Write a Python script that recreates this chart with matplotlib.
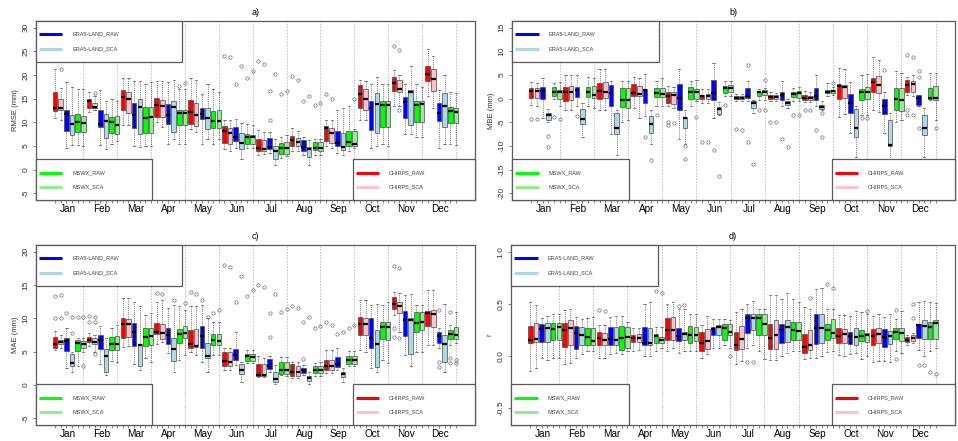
import numpy as np
import matplotlib
matplotlib.use("Agg")
import matplotlib.pyplot as plt
from matplotlib.patches import Rectangle

plt.rcParams['font.family'] = ['Liberation Sans', 'DejaVu Sans']

months = ["Jan", "Feb", "Mar", "Apr", "May", "Jun", "Jul", "Aug", "Sep", "Oct", "Nov", "Dec"]
products = ["CHIRPS_RAW", "CHIRPS_SCA", "ERA5-LAND_RAW", "ERA5-LAND_SCA", "MSWX_RAW", "MSWX_SCA"]
colors = ["#ff0000", "#ffc0cb", "#0000ff", "#add8e6", "#00ff00", "#90ee90"]

# each entry: (whisker low, q1, median, q3, whisker high) per month
# ---------------- a) RMSE ----------------
rmse_chirps_raw = [(10.9, 12.4, 13.0, 16.4, 21.3), (12.2, 13.0, 14.5, 14.9, 16.4), (9.5, 12.5, 15.3, 16.9, 19.3),
                   (10.0, 11.2, 13.7, 15.2, 18.8), (8.5, 9.7, 12.1, 14.7, 19.3), (4.3, 5.6, 8.1, 9.3, 10.5),
                   (3.0, 4.0, 4.6, 6.5, 8.4), (4.0, 4.9, 6.2, 7.2, 8.7), (5.0, 6.0, 8.8, 9.3, 10.5),
                   (10.5, 13.0, 15.9, 17.8, 19.0), (13.5, 16.6, 18.4, 19.6, 21.0), (15.5, 18.7, 20.3, 21.9, 25.5)]
rmse_chirps_sca = [(10.5, 12.5, 13.0, 15.0, 17.3), (12.5, 13.1, 13.3, 14.0, 15.5), (9.5, 12.0, 15.0, 16.4, 19.3),
                   (9.0, 11.1, 13.4, 14.7, 18.8), (8.0, 9.3, 11.6, 14.0, 19.0), (4.0, 5.4, 7.7, 8.9, 10.5),
                   (3.3, 3.9, 4.4, 6.3, 8.0), (4.0, 4.9, 5.8, 6.7, 8.2), (4.5, 5.6, 7.7, 8.9, 10.5),
                   (10.5, 12.7, 15.0, 17.1, 18.8), (13.5, 16.4, 17.1, 18.9, 20.0), (13.0, 16.6, 19.2, 21.3, 24.0)]
rmse_era5_raw = [(4.6, 8.2, 11.7, 12.5, 18.5), (5.3, 9.1, 9.7, 12.5, 16.8), (5.0, 8.8, 11.6, 14.0, 18.8),
                 (5.5, 9.7, 11.5, 13.8, 18.5), (5.5, 10.7, 11.8, 13.0, 16.0), (4.6, 6.0, 7.0, 9.1, 10.6),
                 (3.5, 4.3, 4.8, 6.7, 8.0), (3.0, 3.9, 4.7, 6.2, 7.0), (3.5, 4.9, 5.6, 8.2, 12.5),
                 (4.5, 8.4, 13.0, 14.5, 18.0), (7.5, 11.0, 14.3, 15.4, 18.0), (4.5, 10.2, 12.0, 14.0, 16.8)]
rmse_era5_sca = [(5.3, 7.4, 9.7, 11.6, 17.5), (4.3, 6.7, 10.2, 11.7, 14.5), (4.8, 7.5, 13.2, 15.0, 18.8),
                 (6.5, 7.9, 13.2, 14.5, 19.0), (6.5, 8.6, 11.0, 13.0, 18.0), (2.3, 4.3, 5.6, 7.7, 9.8),
                 (1.0, 2.3, 3.9, 5.1, 6.5), (1.0, 2.7, 4.3, 4.7, 6.2), (3.0, 4.1, 4.7, 7.7, 13.0),
                 (5.0, 7.7, 13.8, 16.1, 19.5), (7.5, 9.5, 16.3, 16.8, 21.8), (5.5, 9.1, 13.4, 16.1, 20.0)]
rmse_mswx_raw = [(5.3, 7.9, 10.1, 11.7, 17.1), (5.5, 7.7, 10.0, 11.2, 15.0), (5.0, 7.7, 11.0, 13.2, 18.0),
                 (5.5, 9.5, 11.9, 12.6, 17.0), (5.5, 8.8, 10.3, 12.4, 17.0), (4.5, 5.5, 6.8, 7.6, 9.7),
                 (2.5, 3.4, 4.6, 5.6, 7.0), (3.0, 4.1, 4.6, 5.8, 6.5), (4.0, 5.1, 5.8, 8.2, 13.5),
                 (5.5, 9.1, 13.6, 14.5, 18.0), (7.0, 10.0, 13.6, 14.5, 18.0), (5.5, 9.8, 12.3, 13.2, 16.5)]
rmse_mswx_sca = [(4.9, 7.9, 9.8, 11.4, 17.1), (6.0, 7.5, 9.5, 11.4, 14.5), (5.0, 7.7, 11.1, 13.2, 18.5),
                 (5.5, 9.5, 12.0, 12.6, 17.0), (6.5, 8.8, 10.2, 12.6, 16.5), (4.5, 5.5, 6.8, 7.4, 9.5),
                 (2.8, 3.4, 4.6, 5.8, 7.3), (3.0, 4.0, 4.5, 5.8, 6.5), (4.5, 4.9, 5.5, 8.2, 8.5),
                 (5.0, 9.0, 13.6, 14.6, 18.0), (7.0, 10.0, 13.8, 14.6, 17.5), (5.3, 9.8, 12.1, 13.1, 16.2)]
# outliers: (month index, product index, value)
rmse_outliers = [(0, 1, 21.2), (1, 1, 16.2), (3, 4, 17.7), (3, 5, 18.3), (5, 0, 24.0), (5, 1, 23.7),
                 (5, 2, 18.0), (5, 3, 22.0), (5, 4, 19.4), (5, 5, 20.9), (6, 0, 22.9), (6, 1, 22.3),
                 (6, 2, 16.7), (6, 2, 10.5), (6, 3, 20.3), (6, 4, 15.9), (6, 5, 16.6), (7, 0, 19.7),
                 (7, 1, 19.0), (7, 2, 14.5), (7, 3, 15.6), (7, 4, 13.6), (7, 5, 14.1), (8, 0, 15.9),
                 (8, 1, 14.9), (8, 5, 15.0), (10, 0, 26.2), (10, 1, 25.3), (10, 1, 12.5)]

# ---------------- b) MBE ----------------
mbe_chirps_raw = [(-1.4, 0.1, 1.6, 2.2, 3.6), (-2.5, -0.6, 1.4, 2.4, 5.0), (-2.5, 0.0, 1.6, 3.4, 6.2),
                  (-2.0, 0.5, 1.2, 3.0, 4.5), (-1.5, -0.9, 0.5, 1.5, 2.6), (-1.0, -0.1, 0.5, 0.8, 2.0),
                  (-0.5, 0.0, 0.2, 0.5, 1.0), (-0.5, -0.1, 0.3, 0.7, 1.5), (-0.8, -0.2, 0.2, 0.7, 1.7),
                  (-3.8, -0.1, 2.6, 3.0, 6.5), (-2.5, 1.4, 3.5, 4.4, 8.7), (0.8, 1.4, 2.9, 4.0, 4.5)]
mbe_chirps_sca = [(-1.5, 0.1, 1.6, 2.2, 3.3), (-2.3, -0.3, 1.5, 2.6, 5.0), (-2.5, 0.1, 1.4, 3.5, 6.2),
                  (-4.0, 0.5, 1.0, 2.6, 4.3), (-2.0, -1.2, 0.7, 1.5, 2.5), (-1.0, -0.1, 0.6, 0.9, 2.0),
                  (-0.5, 0.0, 0.2, 0.5, 1.0), (-0.5, -0.1, 0.3, 0.7, 1.2), (-0.8, -0.2, 0.2, 0.5, 1.5),
                  (-3.2, 0.1, 2.5, 2.8, 6.3), (-2.8, 1.2, 2.9, 4.7, 8.2), (0.5, 1.3, 3.1, 3.8, 5.0)]
mbe_era5_raw = [(-4.0, -0.1, 1.6, 2.4, 4.3), (-1.5, 0.3, 1.9, 2.4, 5.0), (-7.5, -1.6, 1.2, 2.8, 3.8),
                (-3.7, -1.0, 1.9, 2.1, 5.2), (-8.5, -2.3, 0.2, 3.0, 6.3), (-4.0, -0.2, 1.2, 3.9, 7.5),
                (-0.5, 0.1, 0.6, 2.3, 3.8), (-1.5, -0.3, 0.7, 1.5, 3.8), (-1.5, -0.3, 0.5, 2.2, 5.1),
                (-7.2, -3.0, -0.9, 1.0, 3.6), (-7.2, -3.3, -1.6, -0.1, 1.5), (-1.5, -1.3, 0.1, 0.7, 0.8)]
mbe_era5_sca = [(-5.0, -4.5, -3.5, -3.0, -2.2), (-8.0, -5.4, -4.4, -2.1, -1.0), (-12.0, -7.5, -6.1, -3.0, -2.5),
                (-9.5, -7.2, -5.4, -3.6, -2.5), (-9.5, -6.1, -4.0, -3.8, -2.5), (-3.5, -3.2, -2.2, -1.7, -0.8),
                (-3.0, -1.9, -1.0, -0.6, -0.2), (-2.0, -1.4, -1.0, -0.5, 0.0), (-2.5, -2.1, -1.7, -1.3, -0.5),
                (-12.3, -8.2, -6.1, -2.2, -1.5), (-13.0, -10.1, -9.8, -4.5, -3.0), (-12.3, -7.7, -6.2, -3.5, -2.0)]
mbe_mswx_raw = [(0.0, 0.5, 1.4, 2.4, 3.4), (-1.5, 0.3, 1.3, 2.4, 4.5), (-5.0, -1.7, -0.3, 2.3, 3.7),
                (-1.5, 0.3, 1.2, 2.3, 3.7), (-1.5, 0.0, 1.4, 2.4, 3.7), (0.5, 1.2, 2.2, 2.7, 3.7),
                (-0.3, 0.5, 1.3, 1.5, 2.1), (-0.5, 0.3, 0.9, 1.4, 2.3), (0.5, 1.1, 1.5, 1.9, 3.4),
                (-3.5, -0.3, 1.5, 2.1, 5.0), (-5.0, -2.3, 0.0, 2.2, 5.8), (-0.3, -0.1, 0.1, 2.2, 5.4)]
mbe_mswx_sca = [(-1.5, -0.1, 1.5, 1.9, 3.5), (-2.0, 0.1, 0.8, 2.6, 4.3), (-4.5, -1.9, -0.3, 2.2, 3.8),
                (-1.5, 0.3, 0.9, 2.2, 4.3), (-0.5, 0.0, 1.5, 2.1, 4.0), (0.5, 1.3, 2.3, 2.8, 3.8),
                (-0.3, 0.7, 1.3, 1.9, 2.3), (-0.5, 0.2, 1.2, 1.7, 2.5), (0.7, 1.2, 1.6, 1.9, 2.5),
                (-3.5, -0.1, 1.3, 2.4, 5.2), (-4.5, -2.6, -0.3, 2.2, 5.5), (-4.5, -0.3, 0.2, 2.7, 5.4)]
mbe_outliers = [(0, 0, -4.4), (0, 1, -4.2), (0, 3, -7.8), (0, 3, -10.2), (0, 4, -3.8), (0, 5, -4.3),
                (1, 2, -3.7), (3, 2, -8.1), (3, 3, -12.9), (3, 4, -3.5), (4, 0, -5.5), (4, 0, -5.0),
                (4, 1, -5.2), (4, 3, -10.1), (4, 3, -12.8), (4, 5, -3.8), (5, 0, -9.1), (5, 1, -9.1),
                (5, 2, -10.8), (5, 3, -16.4), (5, 4, -1.3), (6, 0, -6.4), (6, 1, -6.6), (6, 2, 7.2),
                (6, 2, -9.2), (6, 3, -13.7), (6, 4, -2.4), (6, 5, 3.9), (6, 5, -2.4), (7, 0, -5.0),
                (7, 1, -5.0), (7, 2, -8.5), (7, 3, -10.2), (7, 4, -3.4), (7, 5, -3.4), (8, 0, -2.4),
                (8, 1, -2.4), (8, 2, -6.6), (8, 3, -3.0), (8, 3, -8.0), (8, 5, 3.3), (9, 4, -4.0),
                (9, 5, -4.0), (10, 2, 6.1), (11, 0, 9.3), (11, 0, -2.4), (11, 0, -3.5), (11, 1, 8.8),
                (11, 1, -3.5), (11, 2, 5.9), (11, 2, 4.5), (11, 2, -6.3), (11, 5, -6.2)]

# ---------------- c) MAE ----------------
mae_chirps_raw = [(5.3, 5.6, 6.2, 7.2, 8.1), (5.8, 6.4, 6.8, 7.2, 7.8), (5.7, 7.1, 9.2, 10.1, 13.1),
                  (6.2, 7.6, 7.9, 9.3, 12.5), (5.0, 5.5, 6.2, 8.3, 11.8), (2.2, 2.9, 3.6, 5.0, 5.5),
                  (1.2, 1.4, 1.5, 3.1, 4.3), (1.0, 1.4, 1.9, 3.1, 3.5), (1.8, 2.3, 2.9, 3.7, 5.3),
                  (5.3, 7.5, 9.1, 10.2, 12.8), (10.5, 11.4, 12.2, 13.2, 14.0), (6.0, 8.8, 10.8, 11.1, 14.3)]
mae_chirps_sca = [(5.5, 6.1, 6.4, 6.8, 7.5), (5.0, 6.2, 6.4, 7.0, 7.5), (5.8, 7.2, 9.1, 9.9, 13.0),
                  (6.5, 6.9, 7.8, 9.2, 12.7), (4.5, 5.7, 5.9, 8.4, 11.8), (2.2, 2.9, 3.4, 4.9, 5.5),
                  (1.2, 1.4, 1.5, 3.1, 4.0), (1.0, 1.4, 1.9, 2.9, 3.5), (1.8, 2.3, 2.9, 3.7, 5.3),
                  (5.0, 7.5, 9.2, 10.1, 12.8), (8.0, 10.8, 11.8, 12.4, 13.8), (6.0, 8.7, 10.7, 11.3, 14.2)]
mae_era5_raw = [(2.5, 5.1, 6.6, 7.0, 8.5), (3.2, 5.4, 6.7, 7.5, 8.8), (3.2, 5.8, 7.9, 9.3, 12.5),
                (4.8, 6.1, 7.5, 8.6, 11.5), (3.5, 5.5, 7.3, 8.9, 12.0), (3.0, 3.8, 4.5, 5.4, 8.0),
                (2.0, 2.4, 2.8, 3.9, 4.3), (1.5, 1.8, 2.2, 2.5, 3.0), (2.3, 2.7, 3.2, 4.2, 5.5),
                (2.5, 5.5, 7.0, 10.1, 12.0), (4.5, 7.4, 9.7, 11.1, 13.5), (5.5, 6.3, 7.4, 8.0, 8.5)]
mae_era5_sca = [(2.0, 2.8, 3.3, 4.7, 5.0), (1.5, 2.0, 4.4, 5.4, 7.0), (2.3, 2.8, 6.0, 6.2, 11.8),
                (2.0, 3.6, 5.4, 7.1, 12.0), (2.0, 4.0, 4.4, 6.3, 10.0), (0.5, 1.7, 2.2, 3.1, 3.5),
                (0.2, 0.5, 0.9, 1.9, 3.0), (0.2, 0.6, 1.0, 1.4, 2.0), (0.5, 1.2, 1.6, 2.0, 2.5),
                (2.0, 2.7, 6.2, 8.2, 12.2), (2.9, 4.6, 9.8, 10.0, 13.7), (2.0, 3.4, 6.1, 7.5, 12.2)]
mae_mswx_raw = [(2.8, 5.1, 6.3, 6.7, 7.0), (3.6, 5.2, 6.2, 7.2, 8.5), (4.0, 5.8, 7.2, 8.5, 10.5),
                (3.8, 6.3, 7.7, 8.4, 11.8), (4.5, 6.0, 6.7, 7.7, 9.5), (3.3, 3.6, 4.3, 4.7, 5.3),
                (1.5, 1.7, 2.2, 3.5, 4.2), (1.3, 1.8, 2.3, 2.9, 3.3), (2.8, 3.2, 3.7, 4.3, 5.1),
                (3.8, 6.9, 8.7, 9.4, 12.0), (5.0, 8.0, 9.3, 11.0, 12.0), (6.0, 6.9, 7.7, 8.3, 9.0)]
mae_mswx_sca = [(5.0, 5.5, 6.1, 6.6, 7.0), (3.4, 5.2, 6.1, 7.3, 9.0), (3.4, 6.0, 7.3, 8.5, 10.8),
                (4.5, 7.0, 7.8, 8.8, 11.3), (4.5, 6.0, 6.6, 7.7, 9.5), (3.3, 3.6, 4.2, 4.7, 5.3),
                (1.3, 1.7, 2.3, 3.5, 4.2), (1.3, 1.8, 2.3, 2.9, 3.5), (2.8, 3.2, 3.7, 4.4, 5.1),
                (3.3, 6.7, 8.7, 9.5, 12.5), (5.0, 8.2, 9.4, 11.0, 12.0), (6.3, 6.9, 7.5, 8.7, 11.0)]
mae_outliers = [(0, 0, 10.0), (0, 0, 13.4), (0, 1, 10.0), (0, 1, 13.5), (0, 2, 10.8), (0, 3, 10.2),
                (0, 3, 7.8), (0, 4, 10.2), (0, 5, 10.2), (0, 5, 2.9), (1, 0, 10.3), (1, 0, 9.4),
                (1, 1, 10.2), (1, 1, 9.5), (1, 1, 4.7), (3, 0, 13.8), (3, 1, 13.7), (3, 3, 12.8),
                (3, 5, 12.3), (4, 0, 14.0), (4, 1, 13.7), (4, 2, 12.8), (4, 3, 10.2), (4, 4, 10.8),
                (4, 5, 11.3), (5, 0, 18.0), (5, 1, 17.7), (5, 2, 12.5), (5, 3, 16.3), (5, 4, 13.3),
                (5, 5, 14.2), (6, 0, 15.0), (6, 1, 14.7), (6, 2, 10.8), (6, 2, 7.2), (6, 3, 13.7),
                (6, 4, 11.0), (6, 5, 11.4), (7, 0, 11.8), (7, 1, 11.6), (7, 2, 9.4), (7, 2, 3.9),
                (7, 3, 10.2), (7, 4, 8.5), (7, 5, 8.8), (8, 0, 9.5), (8, 1, 9.0), (8, 2, 7.6),
                (8, 3, 8.0), (8, 4, 8.6), (8, 5, 9.0), (10, 0, 17.9), (10, 0, 8.6), (10, 0, 7.2),
                (10, 1, 17.5), (10, 1, 7.0), (11, 2, 11.2), (11, 2, 3.5), (11, 2, 2.7), (11, 4, 10.9),
                (11, 4, 4.0), (11, 4, 3.3), (11, 5, 3.8), (11, 5, 3.3)]

# ---------------- d) r ----------------
r_chirps_raw = [(-0.14, 0.12, 0.15, 0.29, 0.52), (-0.08, 0.09, 0.25, 0.32, 0.44), (-0.02, 0.10, 0.17, 0.23, 0.30),
                (0.05, 0.13, 0.17, 0.20, 0.27), (0.05, 0.15, 0.25, 0.36, 0.50), (-0.02, 0.05, 0.12, 0.23, 0.30),
                (-0.08, 0.06, 0.10, 0.23, 0.42), (-0.04, 0.07, 0.17, 0.31, 0.58), (-0.03, 0.03, 0.09, 0.21, 0.47),
                (0.01, 0.12, 0.19, 0.27, 0.39), (-0.06, 0.10, 0.19, 0.26, 0.38), (0.10, 0.13, 0.15, 0.18, 0.20)]
r_chirps_sca = [(-0.12, 0.13, 0.16, 0.32, 0.49), (-0.07, 0.10, 0.27, 0.34, 0.45), (-0.02, 0.10, 0.15, 0.22, 0.30),
                (0.06, 0.13, 0.17, 0.21, 0.27), (0.08, 0.15, 0.25, 0.37, 0.52), (0.02, 0.07, 0.14, 0.26, 0.38),
                (-0.05, 0.07, 0.16, 0.29, 0.45), (-0.04, 0.07, 0.20, 0.34, 0.58), (-0.02, 0.06, 0.10, 0.25, 0.45),
                (0.00, 0.12, 0.21, 0.26, 0.39), (-0.05, 0.12, 0.21, 0.27, 0.40), (0.12, 0.14, 0.17, 0.20, 0.22)]
r_era5_raw = [(-0.02, 0.13, 0.26, 0.31, 0.36), (-0.02, 0.07, 0.22, 0.29, 0.37), (0.02, 0.10, 0.16, 0.28, 0.37),
              (0.00, 0.10, 0.12, 0.28, 0.50), (0.03, 0.14, 0.19, 0.27, 0.45), (0.08, 0.20, 0.26, 0.28, 0.35),
              (0.08, 0.22, 0.36, 0.40, 0.50), (0.00, 0.12, 0.25, 0.31, 0.55), (-0.02, 0.11, 0.27, 0.40, 0.64),
              (0.02, 0.11, 0.19, 0.23, 0.38), (-0.05, 0.09, 0.18, 0.26, 0.37), (0.06, 0.17, 0.30, 0.31, 0.52)]
r_era5_sca = [(-0.04, 0.13, 0.27, 0.32, 0.38), (0.02, 0.10, 0.20, 0.28, 0.35), (0.03, 0.10, 0.15, 0.28, 0.38),
              (0.00, 0.10, 0.12, 0.27, 0.52), (0.05, 0.15, 0.21, 0.23, 0.45), (0.08, 0.20, 0.28, 0.30, 0.35),
              (0.10, 0.25, 0.36, 0.40, 0.53), (0.03, 0.13, 0.28, 0.34, 0.60), (0.00, 0.12, 0.27, 0.40, 0.65),
              (0.03, 0.10, 0.18, 0.27, 0.43), (-0.06, 0.11, 0.19, 0.24, 0.40), (0.00, 0.16, 0.29, 0.34, 0.53)]
r_mswx_raw = [(-0.02, 0.15, 0.26, 0.32, 0.40), (0.05, 0.10, 0.18, 0.27, 0.36), (0.02, 0.06, 0.17, 0.29, 0.38),
              (0.05, 0.12, 0.19, 0.21, 0.28), (0.05, 0.12, 0.20, 0.29, 0.40), (0.10, 0.15, 0.27, 0.31, 0.35),
              (0.05, 0.20, 0.36, 0.40, 0.45), (0.05, 0.15, 0.25, 0.33, 0.55), (0.04, 0.15, 0.25, 0.31, 0.45),
              (-0.03, 0.14, 0.19, 0.25, 0.42), (0.05, 0.16, 0.23, 0.27, 0.35), (0.05, 0.16, 0.28, 0.33, 0.52)]
r_mswx_sca = [(-0.02, 0.15, 0.28, 0.32, 0.40), (0.05, 0.10, 0.14, 0.27, 0.37), (0.05, 0.08, 0.18, 0.28, 0.33),
              (0.08, 0.12, 0.15, 0.18, 0.28), (0.05, 0.14, 0.20, 0.28, 0.40), (0.08, 0.20, 0.23, 0.31, 0.34),
              (-0.03, 0.20, 0.31, 0.40, 0.45), (0.05, 0.15, 0.24, 0.33, 0.52), (0.05, 0.17, 0.22, 0.35, 0.45),
              (0.00, 0.13, 0.20, 0.22, 0.40), (0.03, 0.14, 0.22, 0.27, 0.43), (0.08, 0.16, 0.32, 0.34, 0.51)]
r_outliers = [(2, 0, 0.44), (2, 1, 0.43), (3, 4, 0.62), (3, 5, 0.60), (4, 2, 0.48), (4, 3, 0.49),
              (5, 5, 0.00), (6, 2, -0.06), (6, 3, -0.06), (8, 1, 0.56), (8, 4, 0.69), (8, 5, 0.65),
              (9, 5, 0.43), (10, 4, 0.44), (10, 4, -0.03), (11, 1, 0.50), (11, 1, 0.36),
              (11, 2, -0.09), (11, 3, -0.09), (11, 4, -0.15), (11, 5, -0.17)]

panels = [
    ("a)", "RMSE (mm)", [rmse_chirps_raw, rmse_chirps_sca, rmse_era5_raw, rmse_era5_sca, rmse_mswx_raw, rmse_mswx_sca],
     rmse_outliers, (-5, 30), [-5, 0, 5, 10, 15, 20, 25, 30], "%g"),
    ("b)", "MBE (mm)", [mbe_chirps_raw, mbe_chirps_sca, mbe_era5_raw, mbe_era5_sca, mbe_mswx_raw, mbe_mswx_sca],
     mbe_outliers, (-20, 15), [-20, -15, -10, -5, 0, 5, 10, 15], "%g"),
    ("c)", "MAE (mm)", [mae_chirps_raw, mae_chirps_sca, mae_era5_raw, mae_era5_sca, mae_mswx_raw, mae_mswx_sca],
     mae_outliers, (-5, 20), [-5, 0, 5, 10, 15, 20], "%g"),
    ("d)", "r", [r_chirps_raw, r_chirps_sca, r_era5_raw, r_era5_sca, r_mswx_raw, r_mswx_sca],
     r_outliers, (-0.6, 1.0), [-0.5, 0.0, 0.5, 1.0], "%.1f"),
]

# axes rectangles in figure fraction
rects = [[0.0376, 0.5465, 0.4582, 0.4059], [0.5344, 0.5465, 0.4624, 0.4059],
         [0.0376, 0.0360, 0.4582, 0.4084], [0.5334, 0.0360, 0.4635, 0.4084]]

fig = plt.figure(figsize=(9.58, 4.41), dpi=100)

frame_col = "#5a5a5a"


def draw_legend(ax, x0, y0, w, h, idx, line_x, text_x, ys):
    ax.add_patch(Rectangle((x0, y0), w, h, transform=ax.transAxes, facecolor="white",
                           edgecolor=frame_col, lw=0.9, zorder=5, clip_on=False))
    for i, y in zip(idx, ys):
        ax.plot(line_x, [y, y], transform=ax.transAxes, color=colors[i], lw=2.2,
                solid_capstyle="butt", zorder=6, clip_on=False)
        ax.text(text_x, y, products[i], transform=ax.transAxes, fontsize=4, color="#444444",
                va="center", ha="left", zorder=6)


for (title, ylab, series, outl, (y0, y1), yticks, fmt), rect in zip(panels, rects):
    ax = fig.add_axes(rect)
    stats, pos, cols = [], [], []
    for m in range(12):
        for p in range(6):
            lo, q1, med, q3, hi = series[p][m]
            fl = [v for (mm, pp, v) in outl if mm == m and pp == p]
            stats.append(dict(whislo=lo, q1=q1, med=med, q3=q3, whishi=hi, fliers=fl))
            pos.append(m * 6 + p + 1)
            cols.append(colors[p])

    # month separators
    for k in range(1, 13):
        ax.axvline(6 * k, color="#bdbdbd", lw=0.7, ls=(0, (1.5, 1.5)), zorder=0)

    bp = ax.bxp(stats, positions=pos, widths=0.8, patch_artist=True, capwidths=0.4,
                boxprops=dict(edgecolor="#4a4a4a", lw=0.5),
                whiskerprops=dict(color="#4a4a4a", lw=0.5, ls=(0, (1.5, 1.5))),
                capprops=dict(color="#4a4a4a", lw=0.5),
                medianprops=dict(color="black", lw=1.6, solid_capstyle="butt"),
                flierprops=dict(marker="o", markerfacecolor="none", markeredgecolor="#6e6e6e",
                                markersize=2.4, markeredgewidth=0.5),
                manage_ticks=False)
    for patch, c in zip(bp["boxes"], cols):
        patch.set_facecolor(c)

    rng = y1 - y0
    ax.set_ylim(y0 - 0.04 * rng, y1 + 0.04 * rng)
    ax.set_xlim(0.5 - 0.04 * 72, 72.5 + 0.04 * 72)

    ax.xaxis.remove_overlapping_locs = False
    ax.set_xticks(range(1, 73))
    ax.set_xticklabels([])
    ax.set_xticks([3.2 + 6 * m for m in range(12)], minor=True)
    ax.set_xticklabels(months, minor=True, fontsize=7.2)
    ax.tick_params(axis="x", which="major", length=2.5, width=0.5, color="#555555")
    ax.tick_params(axis="x", which="minor", length=0, pad=3)

    ax.set_yticks(yticks)
    ax.set_yticklabels([fmt % t for t in yticks], rotation=90, va="center",
                       fontsize=6, color="#333333")
    ax.tick_params(axis="y", length=2.5, width=0.5, color="#555555", pad=2)
    ax.set_ylabel(ylab, fontsize=5.5, labelpad=3, color="#333333")
    ax.set_title(title, fontsize=6.5, pad=4)

    for s in ax.spines.values():
        s.set_color(frame_col)
        s.set_linewidth(0.9)

    # legends (R style boxes anchored to corners)
    w_tl, w_bl, x_br, h = 0.332, 0.265, 0.722, 0.23
    draw_legend(ax, 0, 1 - h, w_tl, h, [2, 3], [0.006, 0.06], 0.082, [0.927, 0.845])
    draw_legend(ax, 0, 0, w_bl, h, [4, 5], [0.006, 0.06], 0.082, [0.151, 0.073])
    draw_legend(ax, x_br, 0, 1 - x_br, h, [0, 1], [0.729, 0.781], 0.804, [0.151, 0.073])

fig.savefig("out.png", dpi=100)
